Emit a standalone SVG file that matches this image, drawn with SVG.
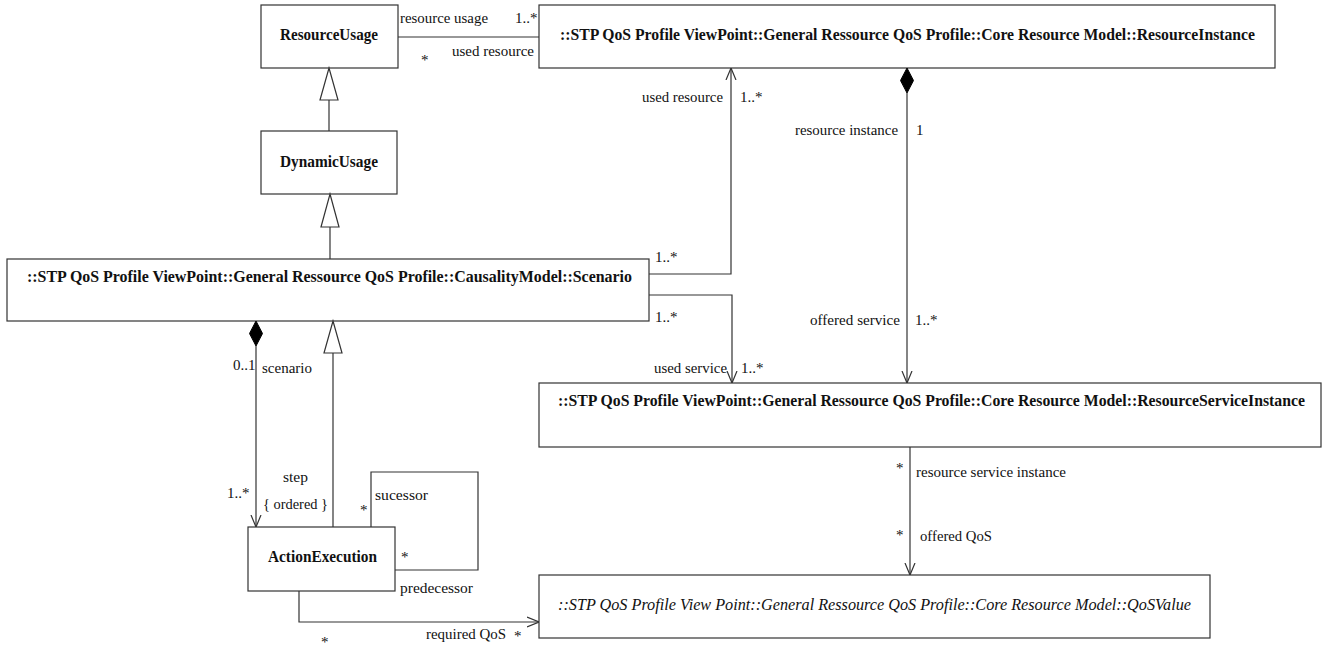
<svg xmlns="http://www.w3.org/2000/svg" width="1332" height="649" viewBox="0 0 1332 649">
<style>
.box{fill:#fff;stroke:#333;stroke-width:1.2}
.name{font-family:'Liberation Serif','Times New Roman','DejaVu Serif',serif;font-weight:bold;font-size:16px;fill:#111}
.iname{font-family:'Liberation Serif','Times New Roman','DejaVu Serif',serif;font-style:italic;font-size:16px;fill:#111}
.lbl{font-family:'Liberation Serif','Times New Roman','DejaVu Serif',serif;font-size:15px;fill:#111}
.ln{fill:none;stroke:#333;stroke-width:1.2}
.tri{fill:#fff;stroke:#333;stroke-width:1.2}
.dia{fill:#000;stroke:#000;stroke-width:1}
</style>
<defs>
<marker id="open" viewBox="0 0 12 12" refX="12" refY="6" markerWidth="12" markerHeight="12" markerUnits="userSpaceOnUse" orient="auto">
<path d="M0,1 L12,6 L0,11" fill="none" stroke="#333" stroke-width="1.2"/>
</marker>
</defs>
<rect width="1332" height="649" fill="#fff"/>

<g id="ResourceUsage">
<rect class="box" x="261" y="5" width="137" height="63"/>
<text class="name" x="280" y="40" textLength="98" lengthAdjust="spacingAndGlyphs">ResourceUsage</text>
</g>
<g id="ResourceInstance">
<rect class="box" x="539" y="5" width="736" height="63"/>
<text class="name" x="560" y="40" textLength="695" lengthAdjust="spacingAndGlyphs">::STP QoS Profile ViewPoint::General Ressource QoS Profile::Core Resource Model::ResourceInstance</text>
</g>
<g id="DynamicUsage">
<rect class="box" x="261" y="131" width="136" height="63"/>
<text class="name" x="280" y="167" textLength="98" lengthAdjust="spacingAndGlyphs">DynamicUsage</text>
</g>
<g id="Scenario">
<rect class="box" x="7" y="259" width="642" height="62"/>
<text class="name" x="27" y="282" textLength="605" lengthAdjust="spacingAndGlyphs">::STP QoS Profile ViewPoint::General Ressource QoS Profile::CausalityModel::Scenario</text>
</g>
<g id="ResourceServiceInstance">
<rect class="box" x="539" y="383" width="782" height="64"/>
<text class="name" x="558" y="406" textLength="747" lengthAdjust="spacingAndGlyphs">::STP QoS Profile ViewPoint::General Ressource QoS Profile::Core Resource Model::ResourceServiceInstance</text>
</g>
<g id="ActionExecution">
<rect class="box" x="248" y="527" width="147" height="64"/>
<text class="name" x="268" y="562" textLength="109" lengthAdjust="spacingAndGlyphs">ActionExecution</text>
</g>
<g id="QoSValue">
<rect class="box" x="539" y="575" width="671" height="63"/>
<text class="iname" x="558" y="610" textLength="633" lengthAdjust="spacingAndGlyphs">::STP QoS Profile View Point::General Ressource QoS Profile::Core Resource Model::QoSValue</text>
</g>

<g id="connectors">
<line class="ln" x1="398" y1="37" x2="539" y2="37"/>
<line class="ln" x1="329" y1="131" x2="329" y2="100"/>
<path class="tri" d="M329,68 L338,100 L320,100 Z"/>
<line class="ln" x1="330" y1="259" x2="330" y2="227"/>
<path class="tri" d="M330,194 L339,227 L321,227 Z"/>
<polyline class="ln" points="649,274 731,274 731,68" marker-end="url(#open)"/>
<polyline class="ln" points="649,295 732,295 732,383" marker-end="url(#open)"/>
<path class="dia" d="M907,68 L913.5,80.5 L907,93 L900.5,80.5 Z"/>
<line class="ln" x1="907" y1="93" x2="907" y2="383" marker-end="url(#open)"/>
<path class="dia" d="M256,321 L262.5,333.5 L256,346 L249.5,333.5 Z"/>
<line class="ln" x1="256" y1="346" x2="256" y2="527" marker-end="url(#open)"/>
<line class="ln" x1="333" y1="527" x2="333" y2="353"/>
<path class="tri" d="M333,321 L342,353 L324,353 Z"/>
<polyline class="ln" points="371,527 371,472 478,472 478,570 395,570"/>
<line class="ln" x1="910" y1="447" x2="910" y2="575" marker-end="url(#open)"/>
<polyline class="ln" points="299,591 299,622 539,622" marker-end="url(#open)"/>
</g>

<g id="labels">
<text class="lbl" x="400" y="23" textLength="88" lengthAdjust="spacingAndGlyphs">resource usage</text>
<text class="lbl" x="515" y="23">1..*</text>
<text class="lbl" x="421" y="65">*</text>
<text class="lbl" x="452" y="56" textLength="82" lengthAdjust="spacingAndGlyphs">used resource</text>
<text class="lbl" x="642" y="102" textLength="81" lengthAdjust="spacingAndGlyphs">used resource</text>
<text class="lbl" x="740" y="102">1..*</text>
<text class="lbl" x="795" y="135" textLength="103" lengthAdjust="spacingAndGlyphs">resource instance</text>
<text class="lbl" x="916" y="135">1</text>
<text class="lbl" x="655" y="262">1..*</text>
<text class="lbl" x="655" y="322">1..*</text>
<text class="lbl" x="810" y="325" textLength="90" lengthAdjust="spacingAndGlyphs">offered service</text>
<text class="lbl" x="915" y="325">1..*</text>
<text class="lbl" x="654" y="373" textLength="73" lengthAdjust="spacingAndGlyphs">used service</text>
<text class="lbl" x="741" y="373">1..*</text>
<text class="lbl" x="233" y="370">0..1</text>
<text class="lbl" x="262" y="373" textLength="50" lengthAdjust="spacingAndGlyphs">scenario</text>
<text class="lbl" x="227" y="498">1..*</text>
<text class="lbl" x="283" y="482" textLength="25" lengthAdjust="spacingAndGlyphs">step</text>
<text class="lbl" x="263" y="509" textLength="65" lengthAdjust="spacingAndGlyphs">{ ordered }</text>
<text class="lbl" x="360" y="515">*</text>
<text class="lbl" x="375" y="500" textLength="53" lengthAdjust="spacingAndGlyphs">sucessor</text>
<text class="lbl" x="401" y="562">*</text>
<text class="lbl" x="400" y="593" textLength="73" lengthAdjust="spacingAndGlyphs">predecessor</text>
<text class="lbl" x="321" y="647">*</text>
<text class="lbl" x="426" y="639" textLength="80" lengthAdjust="spacingAndGlyphs">required QoS</text>
<text class="lbl" x="514" y="641">*</text>
<text class="lbl" x="896" y="473">*</text>
<text class="lbl" x="916" y="477" textLength="150" lengthAdjust="spacingAndGlyphs">resource service instance</text>
<text class="lbl" x="896" y="540">*</text>
<text class="lbl" x="920" y="541" textLength="72" lengthAdjust="spacingAndGlyphs">offered QoS</text>
</g>
</svg>
